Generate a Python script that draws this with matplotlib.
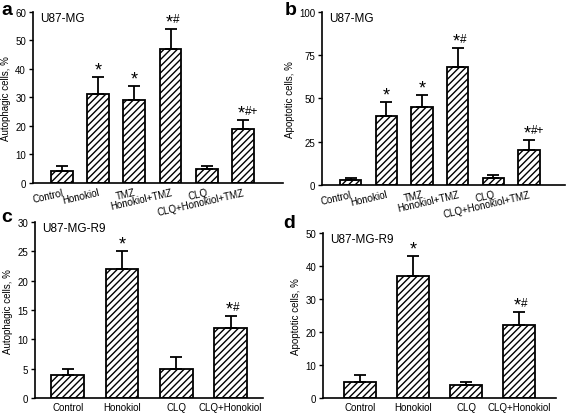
import matplotlib
matplotlib.use("Agg")
import matplotlib.pyplot as plt

plt.rcParams['font.family'] = ['Liberation Sans', 'DejaVu Sans']
plt.rcParams['hatch.linewidth'] = 1.0

# data
labels_ab = ['Control', 'Honokiol', 'TMZ', 'Honokiol+TMZ', 'CLQ', 'CLQ+Honokiol+TMZ']
labels_cd = ['Control', 'Honokiol', 'CLQ', 'CLQ+Honokiol']

auto_mg = [4, 31, 29, 47, 5, 19]
auto_mg_err = [2, 6, 5, 7, 1, 3]
apop_mg = [3, 40, 45, 68, 4, 20]
apop_mg_err = [1, 8, 7, 11, 2, 6]
auto_r9 = [4, 22, 5, 12]
auto_r9_err = [1, 3, 2, 2]
apop_r9 = [5, 37, 4, 22]
apop_r9_err = [2, 6, 1, 4]

marks_ab = ['', '*', '*', '*#', '', '*#+']
marks_cd = ['', '*', '', '*#']


def panel(rect, labels, vals, errs, marks, ylim, yticks, ylabel, cell, letter,
          lpos, xlim, rotate):
    ax = fig.add_axes(rect)
    x = list(range(len(vals)))
    ax.bar(x, vals, width=0.6, color='white', edgecolor='black',
           linewidth=1.3, hatch='/////', zorder=2)
    ax.errorbar(x, vals, yerr=[[0] * len(errs), errs], fmt='none',
                ecolor='black', elinewidth=1.3, capsize=4, capthick=1.3, zorder=3)
    for xi, v, e, m in zip(x, vals, errs, marks):
        if not m:
            continue
        top = v + e
        if len(m) == 1:
            ax.annotate('*', (xi, top), xytext=(0, -1), textcoords='offset points',
                        ha='center', va='bottom', fontsize=13)
        else:
            ax.annotate('*', (xi, top), xytext=(1.5, -1), textcoords='offset points',
                        ha='right', va='bottom', fontsize=13)
            ax.annotate(m[1:], (xi, top), xytext=(1.5, 2.5), textcoords='offset points',
                        ha='left', va='bottom', fontsize=8.5)
    ax.set_xlim(*xlim)
    ax.set_ylim(*ylim)
    ax.set_yticks(yticks)
    ax.set_xticks(x)
    if rotate:
        ax.set_xticklabels(labels, rotation=13, ha='right', rotation_mode='anchor',
                           fontsize=7)
    else:
        ax.set_xticklabels(labels, fontsize=7)
    ax.tick_params(axis='x', length=0, pad=3)
    ax.tick_params(axis='y', length=3, width=1, labelsize=7, pad=2)
    ax.set_ylabel(ylabel, fontsize=7, labelpad=3)
    for s in ['top', 'right']:
        ax.spines[s].set_visible(False)
    for s in ['left', 'bottom']:
        ax.spines[s].set_linewidth(1.2)
    ax.text(0.03, 1.0, cell, transform=ax.transAxes, ha='left', va='top', fontsize=8.5)
    fig.text(lpos[0], lpos[1], letter, fontsize=14, fontweight='bold', va='top')
    return ax


fig = plt.figure(figsize=(5.67, 4.14), dpi=100)

panel([0.058, 0.556, 0.441, 0.413], labels_ab, auto_mg, auto_mg_err, marks_ab,
      (0, 60), range(0, 61, 10), 'Autophagic cells, %', 'U87-MG', 'a',
      (0.002, 0.995), (-0.8, 6.1), True)
panel([0.568, 0.551, 0.428, 0.418], labels_ab, apop_mg, apop_mg_err, marks_ab,
      (0, 100), range(0, 101, 25), 'Apoptotic cells, %', 'U87-MG', 'b',
      (0.502, 0.995), (-0.8, 6.0), True)
panel([0.062, 0.036, 0.402, 0.425], labels_cd, auto_r9, auto_r9_err, marks_cd,
      (0, 30), range(0, 31, 5), 'Autophagic cells, %', 'U87-MG-R9', 'c',
      (0.002, 0.495), (-0.6, 3.6), False)
panel([0.570, 0.036, 0.411, 0.399], labels_cd, apop_r9, apop_r9_err, marks_cd,
      (0, 50), range(0, 51, 10), 'Apoptotic cells, %', 'U87-MG-R9', 'd',
      (0.500, 0.480), (-0.7, 3.7), False)

fig.savefig('out.png', dpi=100)
